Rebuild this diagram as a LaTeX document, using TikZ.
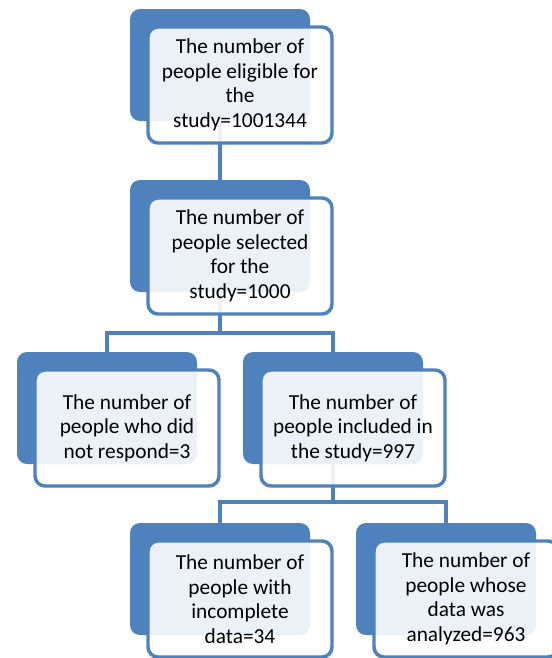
\documentclass[tikz,border=0pt]{standalone}
\usepackage{fontspec}
\setmainfont{Carlito}
\usepackage{xcolor}
\usepackage{tikz}

\definecolor{boxblue}{HTML}{4F81BD}

\begin{document}
\begin{tikzpicture}[x=0.75pt, y=-0.75pt,
  backbox/.style={fill=boxblue, rounded corners=7.5pt, minimum width=135pt, minimum height=84pt, inner sep=0pt},
  frontbox/.style={draw=boxblue, line width=2.6pt, fill=white, fill opacity=0.89, text opacity=1,
    rounded corners=7.5pt, minimum width=138pt, minimum height=87pt, inner sep=0pt,
    align=center, font=\fontsize{16}{18.4}\selectfont},
  link/.style={draw=boxblue, line width=2.6pt}]
\useasboundingbox (0,0) rectangle (552,658);

% solid back boxes
\node[backbox] (eligback) at (220,65) {};
\node[backbox] (selback) at (220,236) {};
\node[backbox] (noresback) at (107,408) {};
\node[backbox] (inclback) at (333,408) {};
\node[backbox] (incompback) at (220,579) {};
\node[backbox] (analback) at (446,579) {};

% connectors
\coordinate (split1) at (220,333);
\coordinate (split2) at (333,502);
\draw[link] (eligback.south) -- (selback.north);
\draw[link] (selback.south) -- (split1) -| (noresback.north);
\draw[link] (split1) -| (inclback.north);
\draw[link] (inclback.south) -- (split2) -| (incompback.north);
\draw[link] (split2) -| (analback.north);

% front boxes with text
\node[frontbox] (eligible) at (240,85) {The number of\\people eligible for\\the\\study=1001344};
\node[frontbox] (selected) at (240,256) {The number of\\people selected\\for the\\study=1000};
\node[frontbox] (noresp) at (127,428) {The number of\\people who did\\not respond=3};
\node[frontbox] (included) at (353,428) {The number of\\people included in\\the study=997};
\node[frontbox] (incomp) at (240,599) {The number of\\people with\\incomplete\\data=34};
\node[frontbox] (analyzed) at (466,599) {The number of\\people whose\\data was\\analyzed=963};
\end{tikzpicture}
\end{document}
